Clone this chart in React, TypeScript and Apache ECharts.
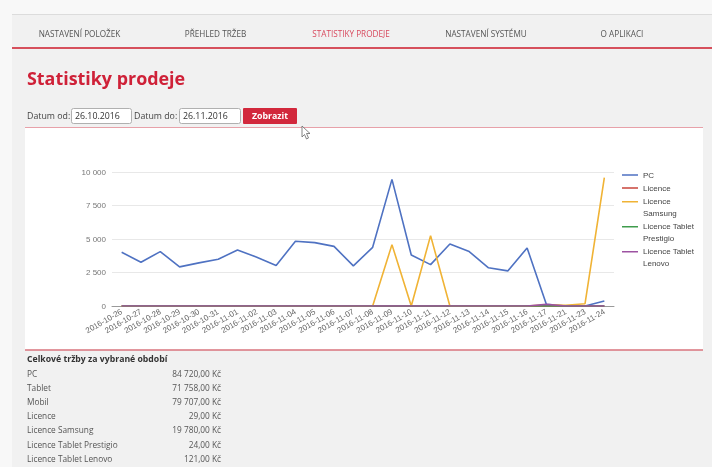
import React, { useEffect, useRef } from 'react';
import * as echarts from 'echarts';

const categories = [
  '2016-10-26', '2016-10-27', '2016-10-28', '2016-10-29', '2016-10-30', '2016-10-31',
  '2016-11-01', '2016-11-02', '2016-11-03', '2016-11-04', '2016-11-05', '2016-11-06',
  '2016-11-07', '2016-11-08', '2016-11-09', '2016-11-10', '2016-11-11', '2016-11-12',
  '2016-11-13', '2016-11-14', '2016-11-15', '2016-11-16', '2016-11-17', '2016-11-21',
  '2016-11-23', '2016-11-24',
];
const pcValues = [4010, 3270, 4060, 2920, 3220, 3490, 4180, 3640, 3020, 4830, 4730, 4450, 2990, 4380, 9450, 3810, 3090, 4630, 4060, 2850, 2620, 4330, 120, 0, 0, 370];
const licenceValues = [0, 0, 0, 0, 0, 0, 0, 0, 0, 0, 0, 0, 0, 0, 0, 0, 0, 0, 0, 0, 0, 0, 29, 0, 0, 0];
const samsungValues = [0, 0, 0, 0, 0, 0, 0, 0, 0, 0, 0, 0, 0, 0, 4580, 0, 5250, 0, 0, 0, 0, 0, 90, 60, 170, 9580];
const prestigioValues = [0, 0, 0, 0, 0, 0, 0, 0, 0, 0, 0, 0, 0, 0, 0, 0, 0, 0, 0, 0, 0, 0, 24, 0, 0, 0];
const lenovoValues = [0, 0, 0, 0, 0, 0, 0, 0, 0, 0, 0, 0, 0, 0, 0, 0, 0, 0, 0, 0, 0, 0, 121, 0, 0, 0];

const seriesNames = ['PC', 'Licence', 'Licence Samsung', 'Licence Tablet Prestigio', 'Licence Tablet Lenovo'];
const legendLabels = ['PC', 'Licence', 'Licence\nSamsung', 'Licence Tablet\nPrestigio', 'Licence Tablet\nLenovo'];
const yTicks = [0, 2500, 5000, 7500, 10000];

const navItems = ['NASTAVENÍ POLOŽEK', 'PŘEHLED TRŽEB', 'STATISTIKY PRODEJE', 'NASTAVENÍ SYSTÉMU', 'O APLIKACI'];
const pageTitle = 'Statistiky prodeje';
const dateFrom = '26.10.2016';
const dateTo = '26.11.2016';
const totalsTitle = 'Celkové tržby za vybrané období';
const totalLabels = ['PC', 'Tablet', 'Mobil', 'Licence', 'Licence Samsung', 'Licence Tablet Prestigio', 'Licence Tablet Lenovo'];
const totalValues = ['84 720,00 Kč', '71 758,00 Kč', '79 707,00 Kč', '29,00 Kč', '19 780,00 Kč', '24,00 Kč', '121,00 Kč'];

const COLORS = ['#4f72c2', '#c9453c', '#f0b335', '#3f9c4c', '#9d52a2'];
const PAGE_FONT = '"Open Sans", "Noto Sans", sans-serif';
const CHART_FONT = '"Liberation Sans", Arial, sans-serif';

function fmt(v: number) {
  return String(v).replace(/\B(?=(\d{3})+(?!\d))/g, ' ');
}

function txt(text: string, x: number, y: number, size: number, fill: string, opts: any = {}) {
  const align = opts.align || 'left';
  return {
    type: 'text',
    z: -1,
    style: {
      text,
      x,
      y,
      fill,
      font: `${opts.bold ? 'bold ' : ''}${size}px ${opts.family || PAGE_FONT}`,
      align,
      textAlign: align,
      verticalAlign: 'middle',
      textVerticalAlign: 'middle',
    },
  };
}

export default function App() {
  const ref = useRef<HTMLDivElement>(null);
  useEffect(() => {
    if (!ref.current) return;
    const chart = echarts.init(ref.current, null, { renderer: 'svg' });

    const navCenters = [79.5, 215.5, 351, 486, 622];
    const graphics: any[] = [
      { type: 'rect', z: -5, shape: { x: 0, y: 0, width: 712, height: 467 }, style: { fill: '#f8f8f8' } },
      { type: 'rect', z: -4, shape: { x: 12, y: 14, width: 700, height: 453 }, style: { fill: '#f1f1f1' } },
      { type: 'line', z: -3, shape: { x1: 12, y1: 14.5, x2: 712, y2: 14.5 }, style: { stroke: '#dcdcdc', lineWidth: 1 } },
      { type: 'line', z: -3, shape: { x1: 12, y1: 48, x2: 712, y2: 48 }, style: { stroke: '#d6505c', lineWidth: 2 } },
      ...navItems.map((n, i) =>
        txt(n, navCenters[i], 33, 8.2, i === 2 ? '#d84a5e' : '#555555', { align: 'center' })
      ),
      txt(pageTitle, 27, 77.5, 17.9, '#cf2138', { bold: true }),
      txt('Datum od:', 27, 116, 8.8, '#444444'),
      { type: 'rect', z: -3, shape: { x: 71.5, y: 108.5, width: 60, height: 15, r: 2 }, style: { fill: '#ffffff', stroke: '#b0b0b0', lineWidth: 1 } },
      txt(dateFrom, 75, 116, 8.8, '#333333'),
      txt('Datum do:', 134, 116, 8.8, '#444444'),
      { type: 'rect', z: -3, shape: { x: 179.5, y: 108.5, width: 61, height: 15, r: 2 }, style: { fill: '#ffffff', stroke: '#b0b0b0', lineWidth: 1 } },
      txt(dateTo, 183, 116, 8.8, '#333333'),
      { type: 'rect', z: -3, shape: { x: 243, y: 108, width: 54, height: 16, r: 1 }, style: { fill: '#d2283c' } },
      txt('Zobrazit', 270, 116, 8.8, '#ffffff', { align: 'center', bold: true }),
      { type: 'rect', z: -3, shape: { x: 25, y: 128, width: 678, height: 222 }, style: { fill: '#ffffff' } },
      { type: 'line', z: -2, shape: { x1: 25, y1: 127.5, x2: 703, y2: 127.5 }, style: { stroke: '#e7a1a9', lineWidth: 1 } },
      { type: 'line', z: -2, shape: { x1: 25, y1: 350, x2: 703, y2: 350 }, style: { stroke: '#d8737d', lineWidth: 1.5 } },
      {
        type: 'polygon', z: 10,
        shape: { points: [[302, 126], [302, 137], [304.5, 134.5], [306.5, 139], [308.5, 138], [306.5, 133.5], [310, 133.5]] },
        style: { fill: '#ffffff', stroke: '#666666', lineWidth: 0.8 },
      },
      txt(totalsTitle, 27, 359, 8.7, '#333333', { bold: true }),
    ];
    totalLabels.forEach((l, i) => {
      const y = 373 + i * 14.2;
      graphics.push(txt(l, 27, y, 8.3, '#555555'));
      graphics.push(txt(totalValues[i], 221, y, 8.3, '#555555', { align: 'right' }));
    });

    const valueSets = [pcValues, licenceValues, samsungValues, prestigioValues, lenovoValues];
    const singleIcon = 'path://M0,0L0.01,0M0,5.2L16,5.2L16,6.8L0,6.8ZM0,12L0.01,12';
    const multiIcon = 'path://M0,0L16,0L16,1.6L0,1.6ZM0,12L0.01,12';

    chart.setOption({
      animation: false,
      color: COLORS,
      graphic: graphics,
      grid: { left: 112, right: 98, top: 172, bottom: 161, containLabel: false },
      legend: {
        orient: 'vertical',
        left: 622,
        top: 169,
        padding: 0,
        itemGap: 1,
        itemWidth: 16,
        itemHeight: 12,
        itemStyle: { borderWidth: 0 },
        textStyle: { fontSize: 8, lineHeight: 12, color: '#444444', fontFamily: CHART_FONT },
        formatter: (name: string) => legendLabels[seriesNames.indexOf(name)] || name,
        data: seriesNames.map((n, i) => ({
          name: n,
          icon: legendLabels[i].indexOf('\n') >= 0 ? multiIcon : singleIcon,
          itemStyle: { color: COLORS[i], borderWidth: 0 },
        })),
      },
      xAxis: {
        type: 'category',
        data: categories,
        boundaryGap: true,
        axisTick: { show: false },
        axisLine: { show: true, lineStyle: { color: '#9a9a9a', width: 1 } },
        axisLabel: {
          interval: 0,
          rotate: 30,
          fontSize: 8,
          margin: 5,
          color: '#666666',
          fontFamily: CHART_FONT,
        },
      },
      yAxis: {
        type: 'value',
        min: yTicks[0],
        max: yTicks[yTicks.length - 1],
        interval: yTicks[1] - yTicks[0],
        axisLine: { show: false },
        axisTick: { show: false },
        splitLine: { lineStyle: { color: '#e8e8e8', width: 1 } },
        axisLabel: {
          fontSize: 8,
          margin: 6,
          color: '#777777',
          fontFamily: CHART_FONT,
          formatter: (v: number) => fmt(v),
        },
      },
      series: seriesNames.map((n, i) => ({
        name: n,
        type: 'line',
        data: valueSets[i],
        symbol: 'none',
        showSymbol: false,
        lineStyle: { width: 1.6, color: COLORS[i] },
        itemStyle: { color: COLORS[i] },
      })),
    });
    return () => chart.dispose();
  }, []);

  return (
    <div
      ref={ref}
      style={{ position: 'fixed', left: 0, top: 0, width: 712, height: 467 }}
    />
  );
}
